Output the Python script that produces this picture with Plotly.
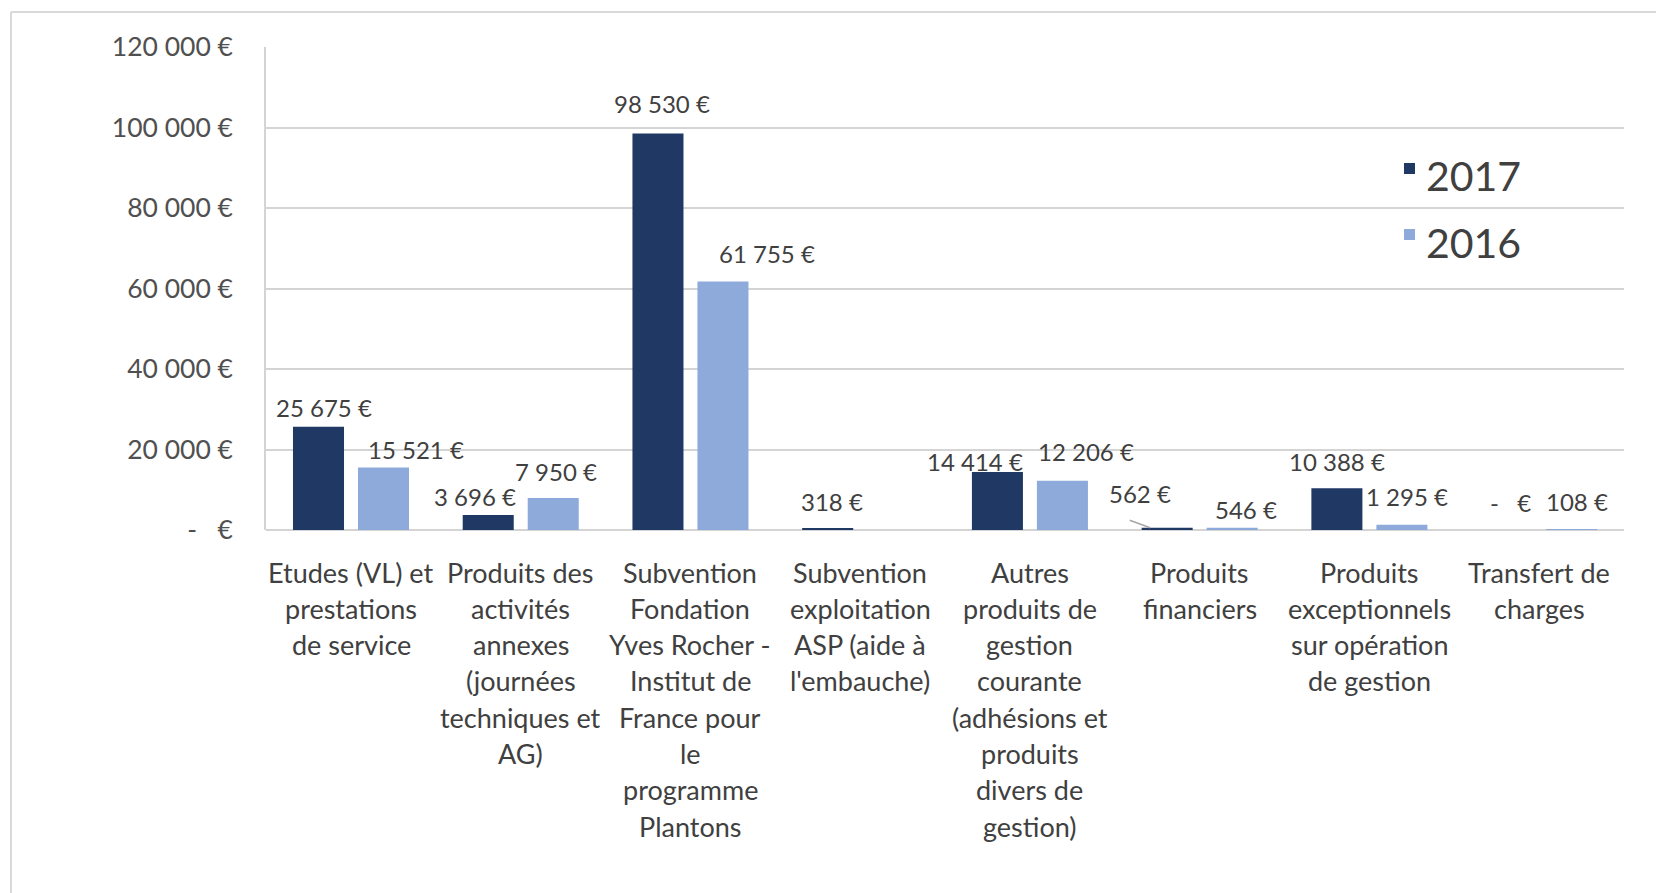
import plotly.graph_objects as go

# ---- data -------------------------------------------------------------
categories = [
    "Etudes (VL) et<br>prestations<br>de service",
    "Produits des<br>activités<br>annexes<br>(journées<br>techniques et<br>AG)",
    "Subvention<br>Fondation<br>Yves Rocher -<br>Institut de<br>France pour<br>le<br>programme<br>Plantons",
    "Subvention<br>exploitation<br>ASP (aide à<br>l'embauche)",
    "Autres<br>produits de<br>gestion<br>courante<br>(adhésions et<br>produits<br>divers de<br>gestion)",
    "Produits<br>financiers",
    "Produits<br>exceptionnels<br>sur opération<br>de gestion",
    "Transfert de<br>charges",
]
series_names = ["2017", "2016"]
values_2017 = [25675, 3696, 98530, 318, 14414, 562, 10388, 0]
values_2016 = [15521, 7950, 61755, None, 12206, 546, 1295, 108]

y_tickvals = [0, 20000, 40000, 60000, 80000, 100000, 120000]

# ---- styling ----------------------------------------------------------
COL_2017 = "#1f3864"
COL_2016 = "#8eaadb"
TEXT = "#404040"
GRID = "#d4d4d4"
FONT = "Lato"

W, H = 1656, 893
M_L, M_R, M_T, M_B = 266, 32, 47, 363
PW, PH = W - M_L - M_R, H - M_T - M_B
BARGAP = 0.234
BARGROUPGAP = 0.215
SLOT_OFF = (1 - BARGAP) / 4  # half a bar slot, in category units

# per-label nudges (px): (dx, dy above bar top)
nudge_2017 = [(5, 19), (-13, 19), (4, 30), (4, 27), (-22, 10), (-27, 34), (0, 27), (4, 28)]
nudge_2016 = [(32, 18), (3, 27), (44, 28), (0, 0), (24, 29), (14, 18), (5, 28), (5, 28)]
LEADER_IDX = 5  # 2017 label joined to its bar by a short leader line


def px_x(px):
    return (px - M_L) / PW


def px_y(py):
    return (H - M_B - py) / PH


def euro(v):
    if v == 0:
        return "-\u00a0\u00a0\u00a0€"
    return f"{v:,}".replace(",", " ") + " €"


fig = go.Figure()
fig.add_trace(go.Bar(name=series_names[0], x=categories, y=values_2017,
                     marker=dict(color=COL_2017, line=dict(width=0))))
fig.add_trace(go.Bar(name=series_names[1], x=categories, y=values_2016,
                     marker=dict(color=COL_2016, line=dict(width=0))))

annotations = []

# value labels
for vals, nudges, side in ((values_2017, nudge_2017, -1), (values_2016, nudge_2016, 1)):
    for i, v in enumerate(vals):
        if v is None:
            continue
        dx, dy = nudges[i]
        xpos = i + side * SLOT_OFF
        annotations.append(dict(
            x=xpos, y=v, xref="x", yref="y", text=euro(v), showarrow=False,
            xanchor="center", yanchor="middle", xshift=dx, yshift=dy,
            font=dict(family=FONT, size=24, color=TEXT)))
        if side == -1 and i == LEADER_IDX:
            annotations.append(dict(
                x=xpos - 0.1, y=v, xref="x", yref="y", text="",
                showarrow=True, arrowhead=0, arrowwidth=1.5,
                arrowcolor="#a6a6a6", ax=-22, ay=-8, standoff=0))

# category labels, one annotation per line
for i, cat in enumerate(categories):
    for j, line in enumerate(cat.split("<br>")):
        annotations.append(dict(
            x=i, y=px_y(572 + 36.3 * j), xref="x", yref="paper", text=line,
            showarrow=False, xanchor="center", yanchor="middle",
            font=dict(family=FONT, size=27, color=TEXT)))

# legend
shapes = []
for name, col, cy in ((series_names[0], COL_2017, 176),
                      (series_names[1], COL_2016, 242)):
    annotations.append(dict(
        x=px_x(1424), y=px_y(cy), xref="paper", yref="paper", text=name,
        showarrow=False, xanchor="left", yanchor="middle",
        font=dict(family=FONT, size=41, color=TEXT)))
    shapes.append(dict(type="rect", xref="paper", yref="paper",
                       x0=px_x(1404), x1=px_x(1415),
                       y0=px_y(cy - 13), y1=px_y(cy - 2),
                       fillcolor=col, line=dict(width=0)))

# outer frame (top and left edges)
shapes.append(dict(type="line", xref="paper", yref="paper",
                   x0=px_x(11), x1=px_x(W), y0=px_y(12), y1=px_y(12),
                   line=dict(color="#d9d9d9", width=2)))
shapes.append(dict(type="line", xref="paper", yref="paper",
                   x0=px_x(11), x1=px_x(11), y0=px_y(12), y1=px_y(H),
                   line=dict(color="#d9d9d9", width=2)))

fig.update_layout(
    width=W, height=H,
    margin=dict(l=M_L, r=M_R, t=M_T, b=M_B, pad=0),
    paper_bgcolor="white", plot_bgcolor="white",
    barmode="group", bargap=BARGAP, bargroupgap=BARGROUPGAP,
    showlegend=False,
    font=dict(family=FONT, color=TEXT),
    annotations=annotations, shapes=shapes,
    xaxis=dict(showticklabels=False, showgrid=False, zeroline=False,
               showline=False, ticks="", fixedrange=True),
    yaxis=dict(range=[0, 120000], tickvals=y_tickvals,
               ticktext=[euro(v) for v in y_tickvals],
               tickfont=dict(family=FONT, size=26.5, color="#505050"),
               showgrid=True, gridcolor=GRID, gridwidth=1.5,
               zeroline=True, zerolinecolor=GRID, zerolinewidth=1.5,
               showline=True, linecolor=GRID, linewidth=1.5,
               ticks="", ticklabelstandoff=26, fixedrange=True),
)

fig.write_html("out.html", config={"displayModeBar": False})
